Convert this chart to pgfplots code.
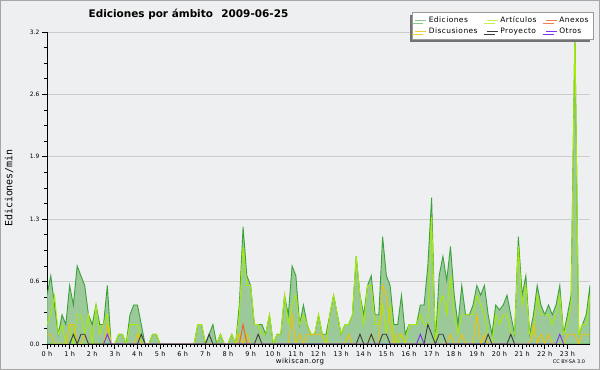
\documentclass[border=0pt]{standalone}
\usepackage{fontspec}
\setmainfont{DejaVu Sans}
\newfontfamily\spc[LetterSpace=6]{DejaVu Sans}
\newfontfamily\mono{DejaVu Sans Mono}
\usepackage{pgfplots}
\usepackage{pgfplotstable}
\pgfplotsset{compat=1.18}
\usetikzlibrary{shadows}
\definecolor{bgc}{HTML}{EEEFF0}
\definecolor{fillg}{HTML}{9CC99A}
\definecolor{edline}{HTML}{3AA23A}
\definecolor{artline}{HTML}{A8EC00}
\definecolor{disc}{HTML}{F2C200}
\definecolor{proy}{HTML}{3C3C3C}
\definecolor{otros}{HTML}{8030F0}
\definecolor{anex}{HTML}{F06020}

\pgfplotstableread{
i ed art
0 0.5 0.2
1 0.7 0.3
2 0.4 0.5
3 0.1 0.1
4 0.3 0.2
5 0.2 0
6 0.6 0.2
7 0.4 0
8 0.8 0.3
9 0.7 0.3
10 0.6 0.1
11 0.3 0.3
12 0.2 0
13 0.4 0.4
14 0.2 0.1
15 0.2 0.2
16 0.6 0.3
17 0 0
18 0 0
19 0.1 0.1
20 0.1 0.1
21 0 0
22 0.3 0.2
23 0.4 0.2
24 0.4 0.2
25 0.2 0
26 0 0
27 0 0
28 0.1 0.1
29 0.1 0.1
30 0 0
31 0 0
32 0 0
33 0 0
34 0 0
35 0 0
36 0 0
37 0 0
38 0 0
39 0 0
40 0.2 0.2
41 0.2 0.2
42 0 0
43 0.1 0
44 0.2 0
45 0 0
46 0.1 0.1
47 0 0
48 0 0
49 0.1 0.1
50 0 0
51 0.4 0.3
52 1.2 1.0
53 0.7 0.6
54 0.6 0.6
55 0.2 0.2
56 0.2 0.2
57 0.2 0.1
58 0.1 0.1
59 0.3 0.3
60 0 0
61 0.1 0.1
62 0.1 0.1
63 0.5 0.5
64 0.3 0.2
65 0.8 0.4
66 0.7 0.5
67 0.2 0.2
68 0.4 0.3
69 0.2 0.2
70 0.1 0.1
71 0.1 0.1
72 0.3 0.3
73 0.1 0.1
74 0.1 0
75 0.3 0.3
76 0.5 0.5
77 0.3 0.3
78 0.1 0.1
79 0.2 0.2
80 0.2 0.2
81 0.3 0.3
82 0.9 0.9
83 0.5 0.5
84 0.3 0.2
85 0.6 0.6
86 0.7 0.6
87 0.3 0.2
88 0.3 0.2
89 1.1 0.4
90 0.7 0.1
91 0.6 0.4
92 0.2 0.1
93 0.2 0
94 0.5 0.1
95 0.1 0
96 0.2 0.2
97 0.2 0.2
98 0.2 0.2
99 0.4 0.3
100 0.4 0.2
101 0.8 0.2
102 1.5 1.3
103 0 0
104 0.7 0.4
105 0.9 0.5
106 0.65 0.3
107 1.0 0.7
108 0.5 0.3
109 0.2 0.1
110 0.6 0.3
111 0.3 0.3
112 0.3 0.3
113 0.4 0.3
114 0.6 0.5
115 0.5 0.4
116 0.6 0.3
117 0.3 0.1
118 0.1 0
119 0.4 0.3
120 0.35 0.2
121 0.4 0.3
122 0.5 0.3
123 0.3 0.1
124 0.1 0.1
125 1.1 1.0
126 0.5 0.4
127 0.7 0.6
128 0.1 0.1
129 0.3 0.1
130 0.6 0.5
131 0.4 0.3
132 0.3 0.3
133 0.4 0.3
134 0.3 0.2
135 0.4 0.3
136 0.6 0.5
137 0.1 0.1
138 0.3 0.2
139 0.5 0.4
140 3.2 3.2
141 0.1 0.1
142 0.2 0.2
143 0.3 0.2
144 0.6 0.5
}\main

\pgfplotstableread{
i v
0 0.1
1 0.1
2 0
5 0
6 0.2
7 0.2
8 0
9 0
10 0.1
11 0
15 0
16 0.2
17 0
23 0
24 0.1
25 0
50 0
51 0.1
52 0
53 0.1
54 0
64 0
65 0.3
66 0
67 0.1
68 0
69 0.1
70 0.1
71 0.1
72 0.1
73 0.1
74 0
79 0
80 0.1
81 0
85 0
86 0.1
87 0
88 0
89 0.6
90 0.5
91 0.2
92 0
93 0.1
94 0.1
95 0
106 0
107 0.1
108 0
109 0
110 0.1
111 0
113 0
114 0.3
115 0
116 0.1
117 0
128 0
129 0.2
130 0
131 0.1
132 0
133 0.1
134 0
137 0
138 0.1
139 0.1
140 0.1
141 0
142 0.1
143 0.1
144 0.1
}\disc

\pgfplotstableread{
i v
6 0
7 0.1
8 0
9 0.1
10 0.1
11 0
24 0
25 0.1
26 0
42 0
43 0.1
44 0
55 0
56 0.1
57 0
82 0
83 0.1
84 0
85 0
86 0.1
87 0
88 0
89 0.1
90 0.1
91 0
100 0
101 0.2
102 0.1
103 0
104 0.1
105 0.1
106 0
116 0
117 0.1
118 0
122 0
123 0.1
124 0
}\proy

\pgfplotstableread{
i v
15 0
16 0.1
17 0
98 0
99 0.1
100 0
135 0
136 0.1
137 0
}\otros

\pgfplotstableread{
i v
51 0
52 0.2
53 0
}\anex

\begin{document}
\begin{tikzpicture}
\fill[bgc] (0bp,0bp) rectangle (600bp,370bp);
\draw[black!35, line width=1.2bp] (0.6bp,0.6bp) rectangle (599.4bp,369.4bp);
\begin{axis}[
  at={(47bp,26bp)}, anchor=south west,
  scale only axis, width=543bp, height=312bp,
  xmin=0, xmax=24, ymin=0, ymax=3.2,
  axis x line=bottom, axis y line=left,
  axis line style={-, black, line width=0.9bp},
  xtick={0,...,23},
  xticklabels={0 h,1 h,2 h,3 h,4 h,5 h,6 h,7 h,8 h,9 h,10 h,11 h,12 h,13 h,14 h,15 h,16 h,17 h,18 h,19 h,20 h,21 h,22 h,23 h},
  minor x tick num=5,
  ytick={0,0.64,1.28,1.92,2.56,3.2},
  yticklabels={0.0,0.6,1.3,1.9,2.6,3.2},
  minor y tick num=3,
  ymajorgrids,
  grid style={black!20, line width=0.8bp},
  tick align=outside,
  major tick length=5bp, minor tick length=3bp,
  tick style={black, line width=0.8bp},
  xticklabel style={font=\spc\fontsize{6.5}{7}\selectfont, yshift=1bp},
  yticklabel style={font=\fontsize{6}{7}\selectfont, xshift=1bp},
  legend columns=3,
  legend cell align=left,
  legend style={at={(1.006,1.064)}, anchor=north east, fill=white, draw=black!40,
    font=\spc\fontsize{7.5}{8}\selectfont, inner xsep=2.5bp, inner ysep=2.5bp, row sep=-0.5bp,
    drop shadow={shadow xshift=-3bp, shadow yshift=-3bp, fill=black!55, opacity=1},
    /tikz/every even column/.append style={column sep=7bp}},
  legend image code/.code={\draw[#1, line width=0.8bp] (0bp,0bp) -- (11bp,0bp);},
]
\addplot[fill=fillg, draw=edline, line width=0.9bp, forget plot]
  table[x expr=\thisrow{i}/6, y=ed] {\main} \closedcycle;
\addplot[artline, line width=0.9bp, forget plot] table[x expr=\thisrow{i}/6, y=art] {\main};
\addplot[disc, line width=0.9bp, forget plot] table[x expr=\thisrow{i}/6, y=v] {\disc};
\addplot[anex, line width=0.9bp, forget plot] table[x expr=\thisrow{i}/6, y=v] {\anex};
\addplot[proy, line width=0.9bp, forget plot] table[x expr=\thisrow{i}/6, y=v] {\proy};
\addplot[otros, line width=0.9bp, forget plot] table[x expr=\thisrow{i}/6, y=v] {\otros};
\addlegendimage{edline!60}
\addlegendentry{Ediciones}
\addlegendimage{artline!70}
\addlegendentry{Artículos}
\addlegendimage{anex!80}
\addlegendentry{Anexos}
\addlegendimage{disc!80}
\addlegendentry{Discusiones}
\addlegendimage{proy}
\addlegendentry{Proyecto}
\addlegendimage{otros}
\addlegendentry{Otros}
\end{axis}
\node[font=\bfseries\fontsize{10.5}{12}\selectfont] at (188.5bp,356bp) {Ediciones por ámbito\hspace{0.8em}2009-06-25};
\node[rotate=90, font=\mono\fontsize{10}{11}\selectfont] at (9bp,182bp) {Ediciones/min};
\node[font=\spc\fontsize{7}{8}\selectfont] at (300bp,8.5bp) {wikiscan.org};
\node[font=\fontsize{5}{6}\selectfont] at (569bp,8bp) {CC BY-SA 3.0};
\end{tikzpicture}
\end{document}
